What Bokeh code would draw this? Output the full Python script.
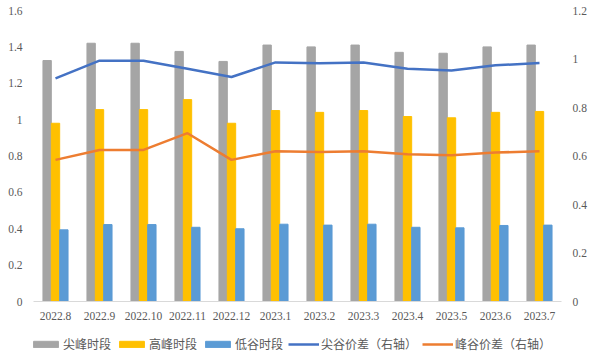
from bokeh.plotting import figure
from bokeh.layouts import column
from bokeh.models import Range1d, LinearAxis, FixedTicker, CustomJSTickFormatter, Legend, LegendItem, ColumnDataSource
from bokeh.transform import dodge
from bokeh.embed import file_html
from bokeh.resources import INLINE

months = ["2022.8", "2022.9", "2022.10", "2022.11", "2022.12", "2023.1",
          "2023.2", "2023.3", "2023.4", "2023.5", "2023.6", "2023.7"]
sharp_peak = [1.325, 1.42, 1.42, 1.375, 1.32, 1.41, 1.40, 1.41, 1.37, 1.365, 1.40, 1.41]
high_peak = [0.98, 1.055, 1.055, 1.11, 0.98, 1.05, 1.04, 1.05, 1.017, 1.01, 1.04, 1.045]
valley = [0.394, 0.423, 0.423, 0.408, 0.40, 0.425, 0.42, 0.425, 0.408, 0.405, 0.418, 0.42]
sharp_valley_diff = [0.92, 0.993, 0.993, 0.96, 0.926, 0.986, 0.982, 0.986, 0.96, 0.953, 0.974, 0.983]
peak_valley_diff = [0.584, 0.625, 0.625, 0.694, 0.584, 0.62, 0.617, 0.62, 0.607, 0.603, 0.614, 0.62]
left_ticks = [0, 0.2, 0.4, 0.6, 0.8, 1.0, 1.2, 1.4, 1.6]
right_ticks = [0, 0.2, 0.4, 0.6, 0.8, 1.0, 1.2]
labels = ["尖峰时段", "高峰时段", "低谷时段", "尖谷价差（右轴）", "峰谷价差（右轴）"]
colors = ["#A5A5A5", "#FFC000", "#5B9BD5", "#4472C4", "#ED7D31"]

src = ColumnDataSource(dict(m=months, a=sharp_peak, b=high_peak, c=valley,
                            d=sharp_valley_diff, e=peak_valley_diff))

TXT = "#595959"
W = 591
p = figure(width=W, height=327, x_range=months, y_range=Range1d(0, 1.6),
           output_backend="svg", toolbar_location=None,
           min_border_top=10, min_border_bottom=26, min_border_left=33, min_border_right=30)
p.outline_line_color = None
p.xgrid.grid_line_color = None
p.ygrid.grid_line_color = None
p.extra_y_ranges = {"r": Range1d(0, 1.2)}

fmt = CustomJSTickFormatter(code="return Number(tick.toFixed(2)).toString();")
for ax in p.yaxis:
    ax.ticker = FixedTicker(ticks=left_ticks)
    ax.formatter = fmt
ra = LinearAxis(y_range_name="r", ticker=FixedTicker(ticks=right_ticks), formatter=fmt)
p.add_layout(ra, "right")

for ax in list(p.yaxis) + [ra]:
    ax.axis_line_color = None
    ax.major_tick_line_color = None
    ax.minor_tick_line_color = None
    ax.major_tick_out = 0
    ax.minor_tick_out = 0
    ax.major_label_text_color = TXT
    ax.major_label_text_font = "Liberation Serif"
    ax.major_label_text_font_size = "11.5px"
p.yaxis[0].major_label_standoff = 11
ra.major_label_standoff = 11

xa = p.xaxis[0]
xa.axis_line_color = "#D9D9D9"
xa.major_tick_line_color = None
xa.minor_tick_line_color = None
xa.major_tick_out = 0
xa.minor_tick_out = 0
xa.major_label_text_color = TXT
xa.major_label_text_font = "Liberation Serif"
xa.major_label_text_font_size = "11.5px"
xa.major_label_standoff = 10


def draw(fig):
    w = 0.19
    rs = [fig.vbar(x=dodge("m", -w, range=fig.x_range), top="a", width=w, source=src, color=colors[0]),
          fig.vbar(x=dodge("m", 0, range=fig.x_range), top="b", width=w, source=src, color=colors[1]),
          fig.vbar(x=dodge("m", w, range=fig.x_range), top="c", width=w, source=src, color=colors[2])]
    kw = {"y_range_name": "r"} if "r" in fig.extra_y_ranges else {}
    rs += [fig.line(x="m", y="d", source=src, line_color=colors[3], line_width=2.5, **kw),
           fig.line(x="m", y="e", source=src, line_color=colors[4], line_width=2.5, **kw)]
    return rs


draw(p)

# legend strip below the chart (same series, drawn outside its visible range)
lp = figure(width=W, height=30, x_range=months, y_range=Range1d(5, 6),
            output_backend="svg", toolbar_location=None,
            x_axis_location=None, y_axis_location=None, min_border=0)
lp.grid.visible = False
lp.outline_line_color = None
rs = draw(lp)
leg = Legend(items=[LegendItem(label=l, renderers=[r]) for l, r in zip(labels, rs)],
             orientation="horizontal", location=(-3, 5), padding=0, margin=0,
             spacing=5, glyph_width=31, glyph_height=8, label_height=14, label_standoff=2,
             label_text_font="Noto Sans CJK SC", label_text_font_size="12px",
             label_text_color=TXT, border_line_color=None, background_fill_alpha=0)
lp.add_layout(leg, "center")

layout = column(p, lp, spacing=0)
open("out.html", "w").write(file_html(layout, INLINE))
